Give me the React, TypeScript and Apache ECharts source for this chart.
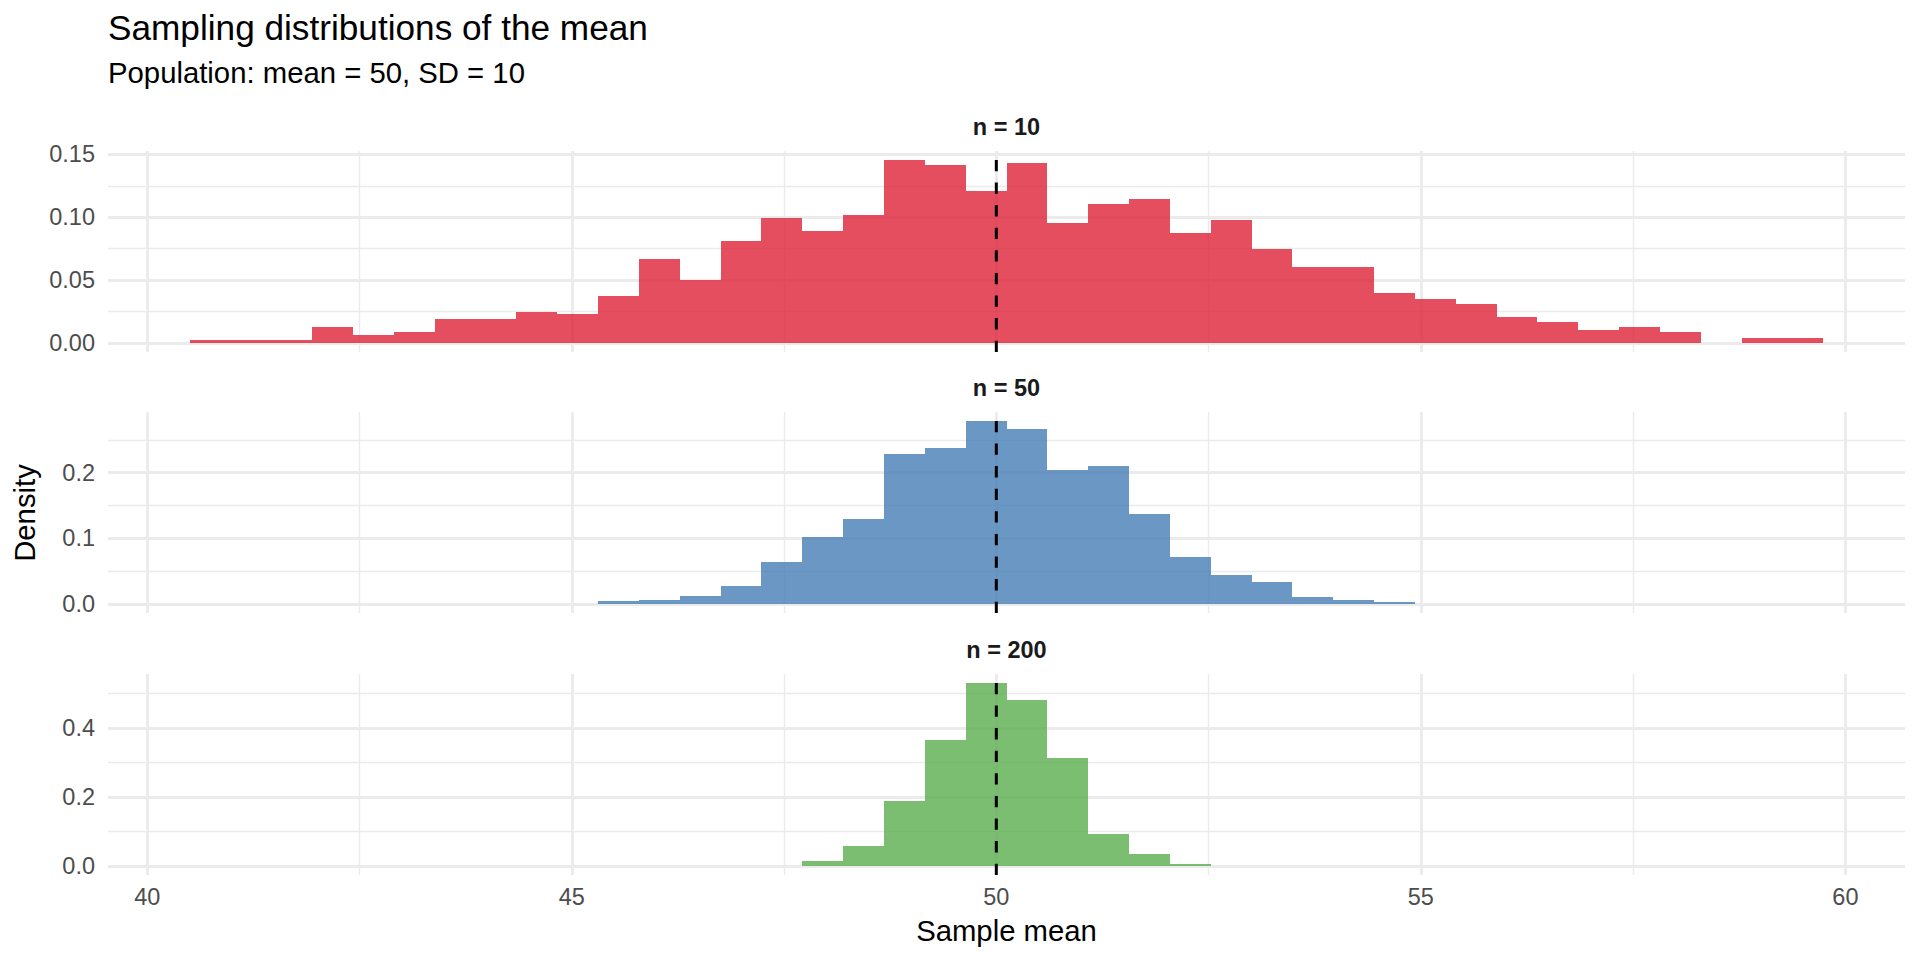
import React, { useEffect, useRef } from "react";
import * as echarts from "echarts";

const titleText = "Sampling distributions of the mean";
const subtitleText = "Population: mean = 50, SD = 10";
const xTitle = "Sample mean";
const yTitle = "Density";
const panelLabels = ["n = 10", "n = 50", "n = 200"];
const panelColors = ["#DD2236", "#467DB6", "#5AAE4F"];

// histogram bin edges (shared by all facets)
const binEdges = [
  40.5, 40.981, 41.462, 41.943, 42.424, 42.905, 43.386, 43.867, 44.348, 44.829,
  45.31, 45.791, 46.272, 46.753, 47.234, 47.715, 48.196, 48.677, 49.158, 49.639,
  50.12, 50.601, 51.082, 51.563, 52.044, 52.525, 53.006, 53.487, 53.968, 54.449,
  54.93, 55.411, 55.892, 56.373, 56.854, 57.335, 57.816, 58.297, 58.778, 59.259,
  59.74,
];

// densities per facet, and the index of each facet's first bin
const densityN10 = [
  0.0021, 0.0021, 0.0021, 0.0125, 0.0062, 0.0083, 0.0187, 0.0187, 0.0249, 0.0229,
  0.0374, 0.0665, 0.0499, 0.0811, 0.0998, 0.0894, 0.1019, 0.1455, 0.1414, 0.1206,
  0.1435, 0.0956, 0.1102, 0.1143, 0.0873, 0.0977, 0.0748, 0.0603, 0.0603, 0.0395,
  0.0353, 0.0312, 0.0208, 0.0166, 0.0104, 0.0125, 0.0083, 0.0, 0.0042, 0.0042,
];
const densityN50 = [
  0.0042, 0.0062, 0.0125, 0.027, 0.0644, 0.1019, 0.1289, 0.2287, 0.237, 0.2786,
  0.2661, 0.2037, 0.21, 0.1372, 0.0707, 0.0437, 0.0333, 0.0104, 0.0062, 0.0021,
];
const densityN200 = [
  0.0135, 0.0567, 0.1894, 0.3663, 0.5298, 0.4808, 0.3135, 0.0913, 0.0337, 0.0048,
];
const firstBin = [0, 10, 15];
const densities = [densityN10, densityN50, densityN200];

const populationMean = 50;

const xMajorTicks = [40, 45, 50, 55, 60];
const xMinorTicks = [42.5, 47.5, 52.5, 57.5];
const yMajorTicks = [
  [0, 0.05, 0.1, 0.15],
  [0, 0.1, 0.2],
  [0, 0.2, 0.4],
];
const yMinorTicks = [
  [0.025, 0.075, 0.125],
  [0.05, 0.15, 0.25],
  [0.1, 0.3, 0.5],
];
const yDecimals = [2, 1, 1];

const FONT = "'Liberation Sans', Arial, Helvetica, sans-serif";

export default function App() {
  const ref = useRef<HTMLDivElement>(null);

  useEffect(() => {
    if (!ref.current) return;
    const chart = echarts.init(ref.current, undefined, { renderer: "svg" });

    const W = 1920;
    const panelLeft = 108;
    const panelRight = 15;
    const panelTops = [151, 412, 674];
    const panelH = 201;
    const panelCenterX = panelLeft + (W - panelLeft - panelRight) / 2;

    // ggplot-like 5% expansion
    const xLo = binEdges[0];
    const xHi = binEdges[binEdges.length - 1];
    const xPad = (xHi - xLo) * 0.05;
    const xMin = xLo - xPad;
    const xMax = xHi + xPad;

    const grids: any[] = [];
    const xAxes: any[] = [];
    const yAxes: any[] = [];
    const series: any[] = [];
    const graphics: any[] = [];

    const gridColor = "#EBEBEB";

    densities.forEach((dens, i) => {
      const maxD = Math.max(...dens);
      const yMin = -maxD * 0.05;
      const yMax = maxD * 1.05;

      grids.push({
        left: panelLeft,
        right: panelRight,
        top: panelTops[i],
        height: panelH,
        containLabel: false,
      });

      xAxes.push({
        gridIndex: i,
        type: "value",
        min: xMin,
        max: xMax,
        axisLine: { show: false },
        axisTick: { show: false, customValues: xMajorTicks },
        axisLabel: {
          show: i === 2,
          customValues: xMajorTicks,
          color: "#4D4D4D",
          fontSize: 23.5,
          fontFamily: FONT,
          margin: 10,
        },
        splitLine: { show: true, lineStyle: { color: gridColor, width: 2.8 } },
      });
      xAxes.push({
        gridIndex: i,
        type: "value",
        min: xMin,
        max: xMax,
        axisLine: { show: false },
        axisTick: { show: false, customValues: xMinorTicks },
        axisLabel: { show: false },
        splitLine: { show: true, lineStyle: { color: gridColor, width: 1.4 } },
      });

      const dec = yDecimals[i];
      yAxes.push({
        gridIndex: i,
        type: "value",
        min: yMin,
        max: yMax,
        axisLine: { show: false },
        axisTick: { show: false, customValues: yMajorTicks[i] },
        axisLabel: {
          show: true,
          customValues: yMajorTicks[i],
          formatter: (v: number) => v.toFixed(dec),
          color: "#4D4D4D",
          fontSize: 23.5,
          fontFamily: FONT,
          margin: 13,
        },
        splitLine: { show: true, lineStyle: { color: gridColor, width: 2.8 } },
      });
      yAxes.push({
        gridIndex: i,
        type: "value",
        min: yMin,
        max: yMax,
        axisLine: { show: false },
        axisTick: { show: false, customValues: yMinorTicks[i] },
        axisLabel: { show: false },
        splitLine: { show: true, lineStyle: { color: gridColor, width: 1.4 } },
      });

      const rows = dens.map((d, j) => [
        binEdges[firstBin[i] + j],
        binEdges[firstBin[i] + j + 1],
        d,
      ]);
      const color = panelColors[i];
      series.push({
        type: "custom",
        xAxisIndex: 2 * i,
        yAxisIndex: 2 * i,
        data: rows,
        encode: { x: [0, 1], y: 2 },
        silent: true,
        z: 2,
        renderItem: (_params: any, api: any) => {
          const p0 = api.coord([api.value(0), 0]);
          const p1 = api.coord([api.value(1), api.value(2)]);
          // snap to whole pixels so adjacent bars join without seams
          const x0 = Math.round(p0[0]);
          const x1 = Math.round(p1[0]);
          const yb = Math.round(p0[1]);
          const yt = Math.round(p1[1]);
          return {
            type: "rect",
            shape: { x: x0, y: yt, width: x1 - x0, height: yb - yt },
            style: { fill: color, opacity: 0.8 },
          };
        },
      });

      series.push({
        type: "line",
        xAxisIndex: 2 * i,
        yAxisIndex: 2 * i,
        data: [
          [populationMean, yMin],
          [populationMean, yMax],
        ],
        symbol: "none",
        silent: true,
        z: 5,
        lineStyle: { color: "#000000", width: 3, type: [11.3, 11.3], cap: "butt" },
      });

      graphics.push({
        type: "text",
        x: panelCenterX,
        y: panelTops[i] - 24,
        style: {
          text: panelLabels[i],
          fontSize: 23.5,
          fontWeight: "bold",
          fontFamily: FONT,
          fill: "#1A1A1A",
          align: "center",
          verticalAlign: "middle",
          textAlign: "center",
          textVerticalAlign: "middle",
        },
      });
    });

    graphics.push({
      type: "text",
      x: panelLeft,
      y: 27,
      style: {
        text: titleText,
        fontSize: 35.2,
        fontFamily: FONT,
        fill: "#000000",
        align: "left",
        verticalAlign: "middle",
        textAlign: "left",
        textVerticalAlign: "middle",
      },
    });
    graphics.push({
      type: "text",
      x: panelLeft,
      y: 72,
      style: {
        text: subtitleText,
        fontSize: 29.3,
        fontFamily: FONT,
        fill: "#000000",
        align: "left",
        verticalAlign: "middle",
        textAlign: "left",
        textVerticalAlign: "middle",
      },
    });
    graphics.push({
      type: "text",
      x: panelCenterX,
      y: 930,
      style: {
        text: xTitle,
        fontSize: 29.3,
        fontFamily: FONT,
        fill: "#000000",
        align: "center",
        verticalAlign: "middle",
        textAlign: "center",
        textVerticalAlign: "middle",
      },
    });
    graphics.push({
      type: "text",
      x: 24,
      y: (panelTops[0] + panelTops[2] + panelH) / 2,
      rotation: Math.PI / 2,
      style: {
        text: yTitle,
        fontSize: 29.3,
        fontFamily: FONT,
        fill: "#000000",
        align: "center",
        verticalAlign: "middle",
        textAlign: "center",
        textVerticalAlign: "middle",
      },
    });

    chart.setOption({
      animation: false,
      backgroundColor: "#FFFFFF",
      textStyle: { fontFamily: FONT },
      grid: grids,
      xAxis: xAxes,
      yAxis: yAxes,
      series,
      graphic: graphics,
    });

    return () => {
      chart.dispose();
    };
  }, []);

  return (
    <div
      ref={ref}
      style={{ position: "absolute", left: 0, top: 0, width: 1920, height: 960 }}
    />
  );
}
